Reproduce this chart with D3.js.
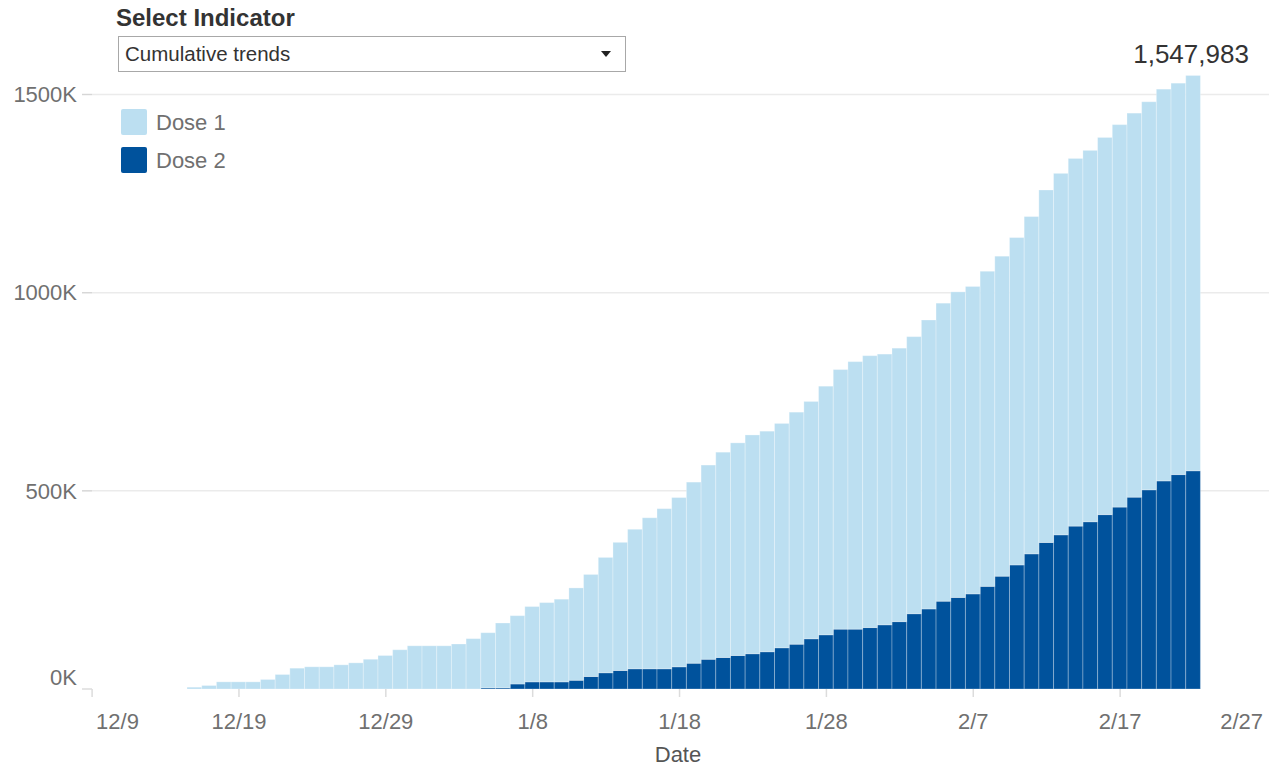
<!DOCTYPE html>
<html><head><meta charset="utf-8">
<script src="https://cdn.jsdelivr.net/npm/d3@7"></script>
<style>
body{margin:0;background:#fff;}
svg{display:block;font-family:"Liberation Sans",Arial,sans-serif;}
</style>
</head><body>
<svg id="c" width="1269" height="767"></svg>
<script>
// ---- data ----
const dates = [
"2020-12-16","2020-12-17","2020-12-18","2020-12-19","2020-12-20","2020-12-21","2020-12-22","2020-12-23","2020-12-24","2020-12-25",
"2020-12-26","2020-12-27","2020-12-28","2020-12-29","2020-12-30","2020-12-31","2021-01-01","2021-01-02","2021-01-03","2021-01-04",
"2021-01-05","2021-01-06","2021-01-07","2021-01-08","2021-01-09","2021-01-10","2021-01-11","2021-01-12","2021-01-13","2021-01-14",
"2021-01-15","2021-01-16","2021-01-17","2021-01-18","2021-01-19","2021-01-20","2021-01-21","2021-01-22","2021-01-23","2021-01-24",
"2021-01-25","2021-01-26","2021-01-27","2021-01-28","2021-01-29","2021-01-30","2021-01-31","2021-02-01","2021-02-02","2021-02-03",
"2021-02-04","2021-02-05","2021-02-06","2021-02-07","2021-02-08","2021-02-09","2021-02-10","2021-02-11","2021-02-12","2021-02-13",
"2021-02-14","2021-02-15","2021-02-16","2021-02-17","2021-02-18","2021-02-19","2021-02-20","2021-02-21","2021-02-22"];
const dose1 = [
4500,8800,18000,18000,18000,24000,36600,52500,56000,56000,
61000,66000,75000,84500,99000,109000,109000,109000,113500,127000,
139000,163500,172400,190000,200000,208600,233000,257500,291000,323300,
352000,381000,404000,427000,457000,490000,518000,536500,552000,556500,
566000,585500,598800,627200,655000,675000,686000,683000,690000,699000,
729000,752000,771000,775600,795000,807400,826000,851000,889300,912000,
927600,937000,951600,965000,969000,979100,988500,987600,997383];
const dose2 = [
0,0,0,0,0,0,0,0,0,0,
0,0,0,0,0,0,0,0,0,0,
3000,3000,12600,18000,18000,18000,22000,31500,41000,46700,
51000,51000,51000,56000,65000,75000,79500,84500,89000,94000,
104000,113000,126700,136800,151000,151000,155000,162000,170000,190000,
202000,221500,231000,240000,259000,284600,313000,341000,369700,389000,
411000,422000,440000,459000,484000,502600,525000,541000,550600];
const seriesNames = ["Dose 1","Dose 2"];
const seriesColors = ["#bcdff1","#00529c"];
const yTicks = [0,500000,1000000,1500000];
const yTickLabels = ["0K","500K","1000K","1500K"];
const xTicks = ["2020-12-09","2020-12-19","2020-12-29","2021-01-08","2021-01-18","2021-01-28","2021-02-07","2021-02-17","2021-02-27"];
const xTickLabels = ["12/9","12/19","12/29","1/8","1/18","1/28","2/7","2/17","2/27"];
const xDomain = ["2020-12-09","2021-02-27"];

// ---- chart ----
const parse = d3.timeParse("%Y-%m-%d");
const svg = d3.select("#c");
const x = d3.scaleTime().domain(xDomain.map(parse)).range([91.6, 1266.5]);
const y = d3.scaleLinear().domain([0, 1500000]).range([689, 94.5]);

const rows = dates.map((d,i)=>({date:parse(d), d1:dose1[i], d2:dose2[i]}));
const stack = d3.stack().keys(["d2","d1"])(rows);
const color = {d1:seriesColors[0], d2:seriesColors[1]};

// gridlines
const grid = svg.append("g");
yTicks.forEach((t,i)=>{
  if (t === 0) return;
  grid.append("line").attr("x1",82).attr("x2",1269).attr("y1",y(t)).attr("y2",y(t))
    .attr("stroke","#ebebeb").attr("stroke-width",1.5);
  grid.append("line").attr("x1",82).attr("x2",92).attr("y1",y(t)).attr("y2",y(t))
    .attr("stroke","#d6d6d6").attr("stroke-width",1.2);
});

// y labels
const yl = svg.append("g").attr("fill","#707070").attr("font-size",22).attr("text-anchor","end");
yTicks.forEach((t,i)=>{
  yl.append("text").attr("x",77).attr("y", (t===0? y(t)-12 : y(t)) ).attr("dy","0.35em").text(yTickLabels[i]);
});

// bars
const dayW = x(parse("2020-12-10")) - x(parse("2020-12-09"));
const layers = svg.append("g").selectAll("g").data(stack).join("g").attr("fill", d=>color[d.key]);
layers.selectAll("rect").data(d=>d.filter(s=>s[1]>s[0])).join("rect")
  .attr("x", d=>x(d.data.date)-dayW/2)
  .attr("width", dayW)
  .attr("y", d=>y(d[1]))
  .attr("height", d=>y(d[0])-y(d[1]))
  .attr("stroke","rgba(255,255,255,0.28)")
  .attr("stroke-width",1);

// x axis
const xa = svg.append("g").attr("transform","translate(0,689)")
  .call(d3.axisBottom(x).tickValues(xTicks.map(parse)).tickFormat((d,i)=>xTickLabels[i]).tickSize(8).tickPadding(16));
xa.select(".domain").remove();
xa.selectAll(".tick line").attr("stroke","#dcdcdc").attr("stroke-width",1.5);
xa.selectAll(".tick line").filter((d,i,n)=>i===n.length-1).remove();
xa.selectAll(".tick text").attr("fill","#707070").attr("font-size",22).attr("font-family","Liberation Sans, Arial, sans-serif");
xa.selectAll(".tick text").filter((d,i)=>i===0).attr("text-anchor","start").attr("dx",4);
xa.selectAll(".tick text").filter((d,i,n)=>i===n.length-1).attr("text-anchor","end").attr("dx",-4);
svg.append("line").attr("x1",82).attr("x2",92).attr("y1",689).attr("y2",689).attr("stroke","#dcdcdc").attr("stroke-width",1.5);

svg.append("text").attr("x",678).attr("y",762).attr("text-anchor","middle")
  .attr("fill","#555").attr("font-size",22).text("Date");

// total label on last bar
const last = rows[rows.length-1];
svg.append("text").attr("x", x(last.date)-2).attr("y", y(last.d1+last.d2)-12)
  .attr("text-anchor","middle").attr("fill","#333").attr("font-size",26)
  .text(d3.format(",")(last.d1+last.d2));

// legend
const lg = svg.append("g");
seriesNames.forEach((n,i)=>{
  lg.append("rect").attr("x",121).attr("y",109+i*38).attr("width",26).attr("height",26).attr("rx",2)
    .attr("fill",seriesColors[i]);
  lg.append("text").attr("x",156).attr("y",122+i*38).attr("dy","0.35em").attr("fill","#707070")
    .attr("font-size",22).text(n);
});

// selector
svg.append("text").attr("x",116).attr("y",26).attr("fill","#333").attr("font-size",24)
  .attr("font-weight","bold").text("Select Indicator");
svg.append("rect").attr("x",118.5).attr("y",36.5).attr("width",507).attr("height",35)
  .attr("fill","#fff").attr("stroke","#a8a8a8").attr("stroke-width",1);
svg.append("text").attr("x",125).attr("y",54).attr("dy","0.35em").attr("fill","#333")
  .attr("font-size",20.5).text("Cumulative trends");
svg.append("path").attr("d","M601,51 L611,51 L606,57 Z").attr("fill","#222");
</script>
</body></html>
